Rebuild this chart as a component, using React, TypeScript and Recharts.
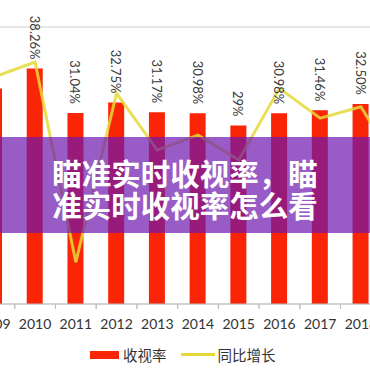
import { ComposedChart, Bar, Line, XAxis, YAxis, CartesianGrid, LabelList } from "recharts";

const years = ["2009", "2010", "2011", "2012", "2013", "2014", "2015", "2016", "2017", "2018", "2019"];
// 收视率 (%), 2019 bar is outside the crop
const rating = [35.0, 38.26, 31.04, 32.75, 31.17, 30.98, 29, 30.98, 31.46, 32.5, null];
const ratingLabels = ["35%", "38.26%", "31.04%", "32.75%", "31.17%", "30.98%", "29%", "30.98%", "31.46%", "32.50%", ""];
// 同比增长 (%)
const growth = [7.2, 9.3, -18.9, 4.9, -3.1, -1.0, -4.5, 5.6, 1.4, 3.0, -6.3];
const leftTicks = [0, 5, 10, 15, 20, 25, 30, 35, 40, 45];

const data = years.map((y, i) => ({
  year: y,
  rating: rating[i],
  growth: growth[i],
  label: ratingLabels[i],
}));

const FONT = "Lato, 'Noto Sans', sans-serif";
const RED = "#fa2506";
const YELLOW = "#e4d936";

function YearTick(props: any) {
  const { x, y, payload } = props;
  const half = 20.35;
  return (
    <g>
      <line x1={x + half} x2={x + half} y1={y - 8} y2={y - 3} stroke="#bdbdbd" />
      <line x1={x - half} x2={x - half} y1={y - 8} y2={y - 3} stroke="#bdbdbd" />
      <text x={x} y={y + 11} textAnchor="middle" dominantBaseline="central" fill="#333" fontSize={14} fontFamily={FONT}>
        {payload.value}
      </text>
    </g>
  );
}

function VerticalLabel(props: any) {
  const { x, y, width, index } = props;
  const text = ratingLabels[index];
  if (!text) return null;
  const cx = x + width / 2;
  const ty = y - 9;
  return (
    <text
      x={cx}
      y={ty}
      transform={`rotate(90, ${cx}, ${ty})`}
      textAnchor="end"
      dominantBaseline="central"
      fill="#3a3a3a"
      fontSize={13}
      fontFamily={FONT}
    >
      {text}
    </text>
  );
}

export default function App() {
  return (
    <div style={{ position: "absolute", top: 0, left: 0, width: 370, height: 370, overflow: "hidden", background: "#fff" }}>
      <div style={{ position: "absolute", left: -26, top: 0 }}>
        <ComposedChart width={450} height={370} data={data} margin={{ top: 27, right: 2, bottom: 36, left: 0 }}>
          <CartesianGrid vertical={false} stroke="#cfcfcf" />
          <XAxis
            dataKey="year"
            height={30}
            axisLine={{ stroke: "#bdbdbd" }}
            tickLine={false}
            tick={<YearTick />}
            interval={0}
          />
          <YAxis yAxisId="left" hide domain={[0, 45]} ticks={leftTicks} />
          <YAxis yAxisId="right" hide orientation="right" domain={[-24.8, 14.25]} allowDataOverflow />
          <Bar yAxisId="left" dataKey="rating" fill={RED} barSize={16} isAnimationActive={false}>
            <LabelList dataKey="label" content={<VerticalLabel />} />
          </Bar>
          <Line
            yAxisId="right"
            dataKey="growth"
            type="linear"
            stroke={YELLOW}
            strokeWidth={3}
            strokeOpacity={0.85}
            dot={false}
            isAnimationActive={false}
          />
        </ComposedChart>
      </div>

      {/* legend */}
      <div style={{ position: "absolute", top: 344, left: 90, display: "flex", alignItems: "center", fontFamily: "'Noto Sans CJK SC', sans-serif", fontSize: 14.5, color: "#333" }}>
        <span style={{ display: "inline-block", width: 29, height: 8, background: RED, marginRight: 4 }} />
        <span>收视率</span>
        <span style={{ display: "inline-block", width: 34, height: 3, background: YELLOW, marginLeft: 14, marginRight: 3 }} />
        <span>同比增长</span>
      </div>

      {/* overlay banner */}
      <div
        style={{
          position: "absolute",
          left: 0,
          top: 137,
          width: 370,
          height: 96,
          background: "rgba(110, 22, 172, 0.7)",
        }}
      />
      <div
        style={{
          position: "absolute",
          left: 0,
          top: 156,
          width: 370,
          textAlign: "center",
          color: "#fff",
          fontFamily: "'Noto Sans CJK SC', sans-serif",
          fontWeight: 700,
          fontSize: 29.5,
          lineHeight: "32px",
        }}
      >
        <div>瞄准实时收视率，瞄</div>
        <div>准实时收视率怎么看</div>
      </div>
    </div>
  );
}
